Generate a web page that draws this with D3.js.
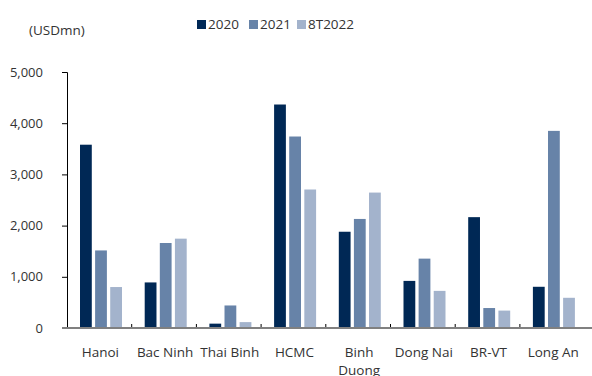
<!DOCTYPE html>
<html>
<head>
<meta charset="utf-8">
<script src="https://cdn.jsdelivr.net/npm/d3@7"></script>
<style>
  body { margin: 0; background: #fff; }
  text { font-family: "Open Sans", "Noto Sans", sans-serif; fill: #333; }
</style>
</head>
<body>
<div id="chart"></div>
<script>
const categories = ['Hanoi', 'Bac Ninh', 'Thai Binh', 'HCMC', 'Binh Duong', 'Dong Nai', 'BR-VT', 'Long An'];
const seriesNames = ['2020', '2021', '8T2022'];
const v2020 = [3580, 890, 85, 4365, 1880, 920, 2165, 805];
const v2021 = [1515, 1660, 440, 3740, 2130, 1355, 390, 3850];
const v8T2022 = [800, 1745, 115, 2705, 2645, 725, 340, 590];
const yTicks = [0, 1000, 2000, 3000, 4000, 5000];
const colors = ['#002855', '#6783a8', '#a3b3cc'];

const width = 592;
const height = 376;
const margin = { top: 72, bottom: 48, left: 67, right: 0 };

const series = [v2020, v2021, v8T2022];
const data = categories.map((c, i) => ({ name: c, values: series.map(s => s[i]) }));

const svg = d3.select('#chart')
  .append('svg')
  .attr('width', width)
  .attr('height', height);

const x = d3.scaleBand()
  .domain(categories)
  .range([margin.left, margin.left + 64.7 * categories.length])
  .paddingInner(0)
  .paddingOuter(0);

const xs = d3.scaleBand()
  .domain(d3.range(seriesNames.length))
  .range([13, 55])
  .paddingInner(0.22);

const y = d3.scaleLinear()
  .domain([0, 5000])
  .range([height - margin.bottom, margin.top]);

svg.append('g')
  .selectAll('g')
  .data(data)
  .join('g')
    .attr('transform', d => `translate(${x(d.name)},0)`)
  .selectAll('rect')
  .data(d => d.values)
  .join('rect')
    .attr('x', (d, i) => xs(i))
    .attr('y', d => y(d))
    .attr('width', xs.bandwidth())
    .attr('height', d => y(0) - y(d))
    .attr('fill', (d, i) => colors[i]);

// y axis
const yAxis = svg.append('g')
  .attr('transform', `translate(${margin.left},0)`)
  .call(d3.axisLeft(y).tickValues(yTicks).tickFormat(d3.format(',')).tickSize(5).tickPadding(19));
yAxis.select('.domain').attr('stroke', '#000');
yAxis.selectAll('.tick line').attr('stroke', '#000');
yAxis.selectAll('text').attr('font-size', '13px').style('fill', '#333');

// x axis
const xAxis = svg.append('g')
  .attr('transform', `translate(0,${y(0)})`);
xAxis.selectAll('line.tk')
  .data(categories.slice(1))
  .join('line')
    .attr('class', 'tk')
    .attr('x1', d => x(d))
    .attr('x2', d => x(d))
    .attr('y1', -4)
    .attr('y2', 0)
    .attr('stroke', '#000');
xAxis.append('line')
  .attr('x1', margin.left - 5)
  .attr('x2', width)
  .attr('stroke', '#808080')
  .attr('stroke-width', 2);

xAxis.selectAll('text')
  .data(categories)
  .join('text')
    .attr('text-anchor', 'middle')
    .attr('font-size', '13.5px')
    .attr('transform', d => `translate(${x(d) + x.bandwidth() / 2 + 1},0)`)
    .each(function(d) {
      const lines = d === 'Binh Duong' ? ['Binh', 'Duong'] : [d];
      d3.select(this).selectAll('tspan')
        .data(lines)
        .join('tspan')
          .attr('x', 0)
          .attr('y', (l, i) => 29 + i * 18)
          .text(l => l);
    });

// unit label
svg.append('text')
  .attr('x', 29)
  .attr('y', 35)
  .attr('font-size', '13.5px')
  .text('(USDmn)');

// legend
const legendX = [197, 249, 297];
const legend = svg.append('g');
seriesNames.forEach((s, i) => {
  legend.append('rect')
    .attr('x', legendX[i])
    .attr('y', 20)
    .attr('width', 9)
    .attr('height', 9)
    .attr('fill', colors[i]);
  legend.append('text')
    .attr('x', legendX[i] + 11)
    .attr('y', 29)
    .attr('font-size', '13.5px')
    .text(s);
});
</script>
</body>
</html>
